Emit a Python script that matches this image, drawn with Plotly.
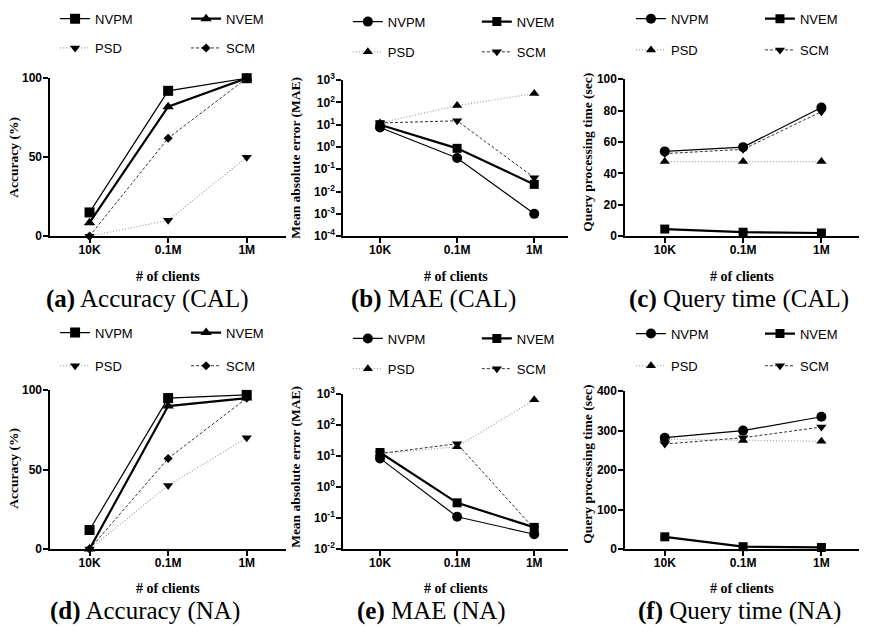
import plotly.graph_objects as go

W, H = 889, 635

categories = ["10K", "0.1M", "1M"]
series_names = ["NVPM", "NVEM", "PSD", "SCM"]

# (a) Accuracy (CAL)
acc_cal_nvpm = [15, 92, 100]
acc_cal_nvem = [8.5, 82, 100]
acc_cal_psd = [0, 10, 50]
acc_cal_scm = [0, 62, 100]

# (b) MAE (CAL)
mae_cal_nvpm = [7.5, 0.32, 0.001]
mae_cal_nvem = [10, 0.87, 0.021]
mae_cal_psd = [12, 72, 250]
mae_cal_scm = [12, 15, 0.042]

# (c) Query time (CAL)
qt_cal_nvpm = [54, 56.7, 82]
qt_cal_nvem = [4.5, 2.5, 2]
qt_cal_psd = [47.5, 47.5, 47.5]
qt_cal_scm = [52.6, 55.3, 79.3]

# (d) Accuracy (NA)
acc_na_nvpm = [12, 95, 97]
acc_na_nvem = [0, 90, 95]
acc_na_psd = [0, 40, 70]
acc_na_scm = [0, 57, 95]

# (e) MAE (NA)
mae_na_nvpm = [8.4, 0.11, 0.03]
mae_na_nvem = [13, 0.31, 0.05]
mae_na_psd = [12, 20, 650]
mae_na_scm = [12, 25, 0.045]

# (f) Query time (NA)
qt_na_nvpm = [282, 300, 335]
qt_na_nvem = [31, 6, 4]
qt_na_psd = [278, 275, 273]
qt_na_scm = [266, 282, 309]

log_tick_vals_cal = [1e-4, 1e-3, 1e-2, 1e-1, 1, 10, 100, 1000]
log_tick_text_cal = ["10<sup>-4</sup>", "10<sup>-3</sup>", "10<sup>-2</sup>", "10<sup>-1</sup>",
                     "10<sup>0</sup>", "10<sup>1</sup>", "10<sup>2</sup>", "10<sup>3</sup>"]
log_tick_vals_na = [1e-2, 1e-1, 1, 10, 100, 1000]
log_tick_text_na = ["10<sup>-2</sup>", "10<sup>-1</sup>", "10<sup>0</sup>", "10<sup>1</sup>",
                    "10<sup>2</sup>", "10<sup>3</sup>"]

captions = ["<b>(a)</b> Accuracy (CAL)", "<b>(b)</b> MAE (CAL)", "<b>(c)</b> Query time (CAL)",
            "<b>(d)</b> Accuracy (NA)", "<b>(e)</b> MAE (NA)", "<b>(f)</b> Query time (NA)"]
y_titles = ["Accuracy (%)", "Mean absolute error (MAE)", "Query processing time (sec)",
            "Accuracy (%)", "Mean absolute error (MAE)", "Query processing time (sec)"]
x_title = "# of clients"

sym_acc = ["square", "triangle-up", "triangle-down", "diamond"]
sym_other = ["circle", "square", "triangle-up", "triangle-down"]
msize_acc = [10, 10, 9, 7]
msize_other = [10, 9, 9, 9]

line_styles = [
    dict(color="black", width=1.2, dash="solid"),
    dict(color="black", width=2.2, dash="solid"),
    dict(color="#a0a0a0", width=1.2, dash="1px,2px"),
    dict(color="#333333", width=1.0, dash="3px,2px"),
]

panels = [
    dict(data=[acc_cal_nvpm, acc_cal_nvem, acc_cal_psd, acc_cal_scm], sym=sym_acc, ms=msize_acc,
         px=(52, 296), py=(71, 233), xr=[-0.5, 2.5], yaxis=dict(range=[0, 100], tickvals=[0, 50, 100]),
         leg_x=57, leg_w=86, leg_y=(10, 40), ytx=14, yty=152, xty=274, capx=153, capy=297),
    dict(data=[mae_cal_nvpm, mae_cal_nvem, mae_cal_psd, mae_cal_scm], sym=sym_other, ms=msize_other,
         px=(355, 588), py=(73, 233), xr=[-0.48, 2.44],
         yaxis=dict(type="log", range=[-4, 3], tickvals=log_tick_vals_cal, ticktext=log_tick_text_cal),
         leg_x=360, leg_w=84, leg_y=(13, 44), ytx=305, yty=153, xty=274, capx=449, capy=297),
    dict(data=[qt_cal_nvpm, qt_cal_nvem, qt_cal_psd, qt_cal_scm], sym=sym_other, ms=msize_other,
         px=(647, 889), py=(72, 233), xr=[-0.506, 2.48],
         yaxis=dict(range=[0, 100], tickvals=[0, 20, 40, 60, 80, 100]),
         leg_x=653, leg_w=84, leg_y=(10, 42), ytx=608, yty=147, xty=274, capx=765, capy=297),
    dict(data=[acc_na_nvpm, acc_na_nvem, acc_na_psd, acc_na_scm], sym=sym_acc, ms=msize_acc,
         px=(52, 296), py=(391, 554), xr=[-0.5, 2.5], yaxis=dict(range=[0, 100], tickvals=[0, 50, 100]),
         leg_x=57, leg_w=86, leg_y=(332, 366), ytx=14, yty=471, xty=594, capx=150, capy=618),
    dict(data=[mae_na_nvpm, mae_na_nvem, mae_na_psd, mae_na_scm], sym=sym_other, ms=msize_other,
         px=(355, 588), py=(395, 554), xr=[-0.48, 2.44],
         yaxis=dict(type="log", range=[-2, 3], tickvals=log_tick_vals_na, ticktext=log_tick_text_na),
         leg_x=360, leg_w=84, leg_y=(338, 369), ytx=305, yty=470, xty=594, capx=447, capy=618),
    dict(data=[qt_na_nvpm, qt_na_nvem, qt_na_psd, qt_na_scm], sym=sym_other, ms=msize_other,
         px=(647, 889), py=(392, 554), xr=[-0.506, 2.48],
         yaxis=dict(range=[0, 400], tickvals=[0, 100, 200, 300, 400]),
         leg_x=653, leg_w=84, leg_y=(333, 366), ytx=608, yty=467, xty=594, capx=765, capy=618),
]

SANS = "Liberation Sans, Arial, sans-serif"
SERIF = "Liberation Serif, Times New Roman, serif"

fig = go.Figure()
layout = dict(width=W, height=H, margin=dict(l=0, r=0, t=0, b=0),
              paper_bgcolor="white", plot_bgcolor="white", showlegend=True)
annotations = []

def fx(p):
    return p / W

def fy(p):
    return 1 - p / H

for i, p in enumerate(panels):
    n = i + 1
    xk = "xaxis" if n == 1 else f"xaxis{n}"
    yk = "yaxis" if n == 1 else f"yaxis{n}"
    xref = "x" if n == 1 else f"x{n}"
    yref = "y" if n == 1 else f"y{n}"
    for s in range(4):
        leg_idx = 2 * i + (s // 2) + 1
        leg_name = "legend" if leg_idx == 1 else f"legend{leg_idx}"
        fig.add_trace(go.Scatter(
            x=categories, y=p["data"][s], name=series_names[s], mode="lines+markers",
            line=line_styles[s],
            marker=dict(symbol=p["sym"][s], size=p["ms"][s], color="black", line=dict(width=0)),
            xaxis=xref, yaxis=yref, legend=leg_name, cliponaxis=False,
        ))
    for r in range(2):
        leg_idx = 2 * i + r + 1
        leg_name = "legend" if leg_idx == 1 else f"legend{leg_idx}"
        layout[leg_name] = dict(
            x=fx(p["leg_x"]), y=fy(p["leg_y"][r]), xanchor="left", yanchor="middle",
            orientation="h", entrywidth=p["leg_w"], entrywidthmode="pixels", itemwidth=30,
            font=dict(family=SANS, size=13, color="black"), bgcolor="rgba(0,0,0,0)",
            borderwidth=0, tracegroupgap=0,
        )
    layout[xk] = dict(
        domain=[fx(p["px"][0]), fx(p["px"][1])], anchor=yref, type="category",
        range=p["xr"], showline=True, linecolor="black", linewidth=1.6, ticks="outside",
        ticklen=5, tickwidth=1.6, tickcolor="black", showgrid=False, zeroline=False,
        ticklabelstandoff=-3,
        tickfont=dict(family=SANS, size=12, color="black", weight="bold"),
    )
    ya = dict(
        domain=[fy(p["py"][1]), fy(p["py"][0])], anchor=xref, showline=True, linecolor="black",
        linewidth=1.6, ticks="outside", ticklen=5, tickwidth=1.6, tickcolor="black",
        showgrid=False, zeroline=False, tickmode="array", ticklabelstandoff=-1,
        tickfont=dict(family=SANS, size=12, color="black", weight="bold"),
    )
    ya.update(p["yaxis"])
    layout[yk] = ya
    annotations.append(dict(
        text=f"<b>{y_titles[i]}</b>", x=fx(p["ytx"]), y=fy(p["yty"]), xref="paper", yref="paper",
        textangle=-90, showarrow=False, xanchor="center", yanchor="middle",
        font=dict(family=SERIF, size=13.5, color="black"),
    ))
    annotations.append(dict(
        text=f"<b>{x_title}</b>", x=(p["px"][0] + p["px"][1]) / 2 / W, y=fy(p["xty"]),
        xref="paper", yref="paper", showarrow=False, xanchor="center", yanchor="middle",
        font=dict(family=SERIF, size=14, color="black"),
    ))
    annotations.append(dict(
        text=captions[i], x=fx(p["capx"]), y=fy(p["capy"]), xref="paper", yref="paper",
        showarrow=False, xanchor="center", yanchor="middle",
        font=dict(family=SERIF, size=25, color="black"),
    ))

layout["annotations"] = annotations
fig.update_layout(**layout)
fig.write_html("out.html")
